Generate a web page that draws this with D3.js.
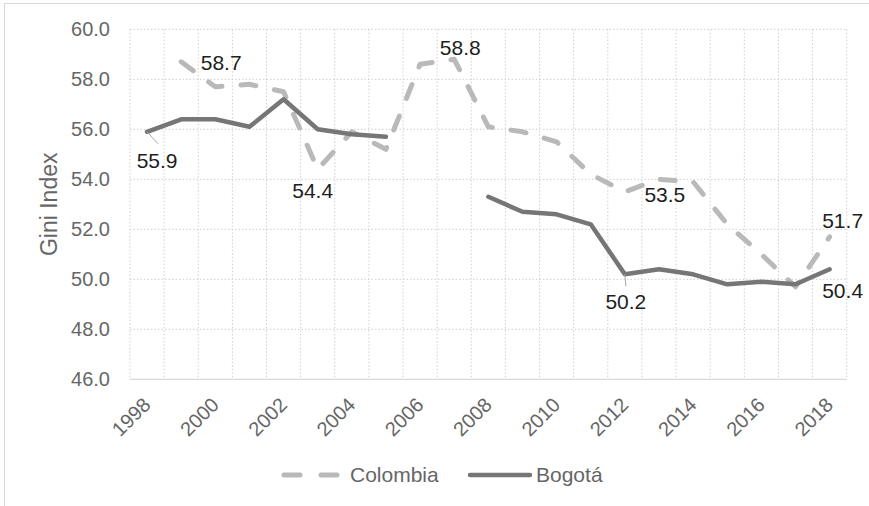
<!DOCTYPE html>
<html><head><meta charset="utf-8">
<script src="https://cdn.jsdelivr.net/npm/d3@7"></script>
<style>
html,body{margin:0;padding:0;background:#fff;}
svg{display:block;font-family:"Liberation Sans",Arial,sans-serif;}
</style></head>
<body><svg id="c" width="869" height="506"></svg>
<script>
const years = [1998,1999,2000,2001,2002,2003,2004,2005,2006,2007,2008,2009,2010,2011,2012,2013,2014,2015,2016,2017,2018];
const tickYears = [1998,2000,2002,2004,2006,2008,2010,2012,2014,2016,2018];
const colombia = [null,58.7,57.7,57.8,57.5,54.4,55.9,55.2,58.6,58.8,56.1,55.9,55.5,54.2,53.5,54.0,53.9,52.2,51.0,49.7,51.7];
const bogota = [55.9,56.4,56.4,56.1,57.2,56.0,55.8,55.7,null,null,53.3,52.7,52.6,52.2,50.2,50.4,50.2,49.8,49.9,49.8,50.4];
const yTicks = [46,48,50,52,54,56,58,60];
const seriesNames = ["Colombia","Bogotá"];
// labelled points: [series index, year]
const labelled = [[1,1998],[0,1999],[0,2003],[0,2007],[0,2012],[1,2012],[0,2018],[1,2018]];
// label placement offsets (style, not data)
const labelOffsets = [[10,36],[40,8],[-5,29],[6,-4],[40,10],[1,35],[13,-9],[13,29]];

const svg = d3.select("#c");
const colors = ["#b9b9b9","#767676"];
const plot = {left:130, right:846.7, top:29.3, bottom:379.3};

svg.append("rect").attr("x",4.5).attr("y",3.5).attr("width",1000).attr("height",1000)
  .attr("fill","#fff").attr("stroke","#d9d9d9").attr("stroke-width",1);

const x = d3.scaleBand().domain(years).range([plot.left, plot.right]).padding(0);
const cx = d => x(d) + x.bandwidth()/2;
const y = d3.scaleLinear().domain([46,60]).range([plot.bottom, plot.top]);

// grid
const g = svg.append("g");
g.selectAll(".hg").data(yTicks.filter(t=>t>46)).join("line")
  .attr("x1",plot.left).attr("x2",plot.right)
  .attr("y1",d=>y(d)).attr("y2",d=>y(d))
  .attr("stroke","#cfcfcf").attr("stroke-width",1).attr("stroke-dasharray","1.5,2");
const bounds = years.map(d=>x(d)).concat([plot.right]);
g.selectAll(".vg").data(bounds).join("line")
  .attr("x1",d=>d).attr("x2",d=>d)
  .attr("y1",plot.top).attr("y2",plot.bottom)
  .attr("stroke","#cfcfcf").attr("stroke-width",1).attr("stroke-dasharray","1.5,2");
g.append("line").attr("x1",plot.left).attr("x2",plot.right)
  .attr("y1",plot.bottom).attr("y2",plot.bottom)
  .attr("stroke","#d9d9d9").attr("stroke-width",1.3);

// y axis labels
const yAxis = d3.axisLeft(y).tickValues(yTicks).tickFormat(d3.format(".1f")).tickSize(0).tickPadding(20);
const ya = svg.append("g").attr("transform",`translate(${plot.left},0)`).call(yAxis);
ya.select(".domain").remove();
ya.selectAll("text").attr("font-size",20).attr("fill","#666").attr("font-family","Liberation Sans, Arial, sans-serif");

// x axis labels
const xAxis = d3.axisBottom(x).tickValues(tickYears).tickSize(0).tickPadding(0);
const xa = svg.append("g").attr("transform",`translate(0,${plot.bottom})`).call(xAxis);
xa.select(".domain").remove();
xa.selectAll("text")
  .attr("font-size",20).attr("fill","#666").attr("font-family","Liberation Sans, Arial, sans-serif")
  .attr("text-anchor","end").attr("dy",null).attr("y",0)
  .attr("transform","translate(1,23) rotate(-45)")
  .attr("dominant-baseline","middle");

// axis title
svg.append("text").attr("transform",`translate(57,${(plot.top+plot.bottom)/2}) rotate(-90)`)
  .attr("text-anchor","middle").attr("font-size",23).attr("fill","#666").text("Gini Index");

// lines
const line = d3.line().defined(d=>d.v!==null).x(d=>cx(d.yr)).y(d=>y(d.v));
const data = [colombia, bogota].map(arr => years.map((yr,i)=>({yr, v:arr[i]})));
svg.append("path").datum(data[0]).attr("d",line).attr("fill","none")
  .attr("stroke",colors[0]).attr("stroke-width",5).attr("stroke-linecap","round")
  .attr("stroke-linejoin","round").attr("stroke-dasharray","15,19");
svg.append("path").datum(data[1]).attr("d",line).attr("fill","none")
  .attr("stroke",colors[1]).attr("stroke-width",4.5).attr("stroke-linecap","round")
  .attr("stroke-linejoin","round");

// leader lines
const leaders = [[1,1998,11,12],[1,2012,1,12]];
leaders.forEach(([s,yr,dx,dy])=>{
  const v = (s===0?colombia:bogota)[years.indexOf(yr)];
  svg.append("line").attr("x1",cx(yr)).attr("y1",y(v)).attr("x2",cx(yr)+dx).attr("y2",y(v)+dy)
    .attr("stroke","#a6a6a6").attr("stroke-width",1);
});

// data labels
labelled.forEach(([s,yr],i)=>{
  const v = (s===0?colombia:bogota)[years.indexOf(yr)];
  const [dx,dy] = labelOffsets[i];
  svg.append("text").attr("x",cx(yr)+dx).attr("y",y(v)+dy)
    .attr("text-anchor","middle").attr("font-size",21).attr("fill","#1e1e1e")
    .text(d3.format(".1f")(v));
});

// legend
const lg = svg.append("g");
lg.append("line").attr("x1",284).attr("x2",338).attr("y1",475).attr("y2",475)
  .attr("stroke",colors[0]).attr("stroke-width",5).attr("stroke-linecap","round").attr("stroke-dasharray","16,21");
lg.append("text").attr("x",350).attr("y",482).attr("font-size",21).attr("fill","#666").text(seriesNames[0]);
lg.append("line").attr("x1",470).attr("x2",530).attr("y1",475).attr("y2",475)
  .attr("stroke",colors[1]).attr("stroke-width",4.5).attr("stroke-linecap","round");
lg.append("text").attr("x",536).attr("y",482).attr("font-size",21).attr("fill","#666").text(seriesNames[1]);
</script></body></html>
